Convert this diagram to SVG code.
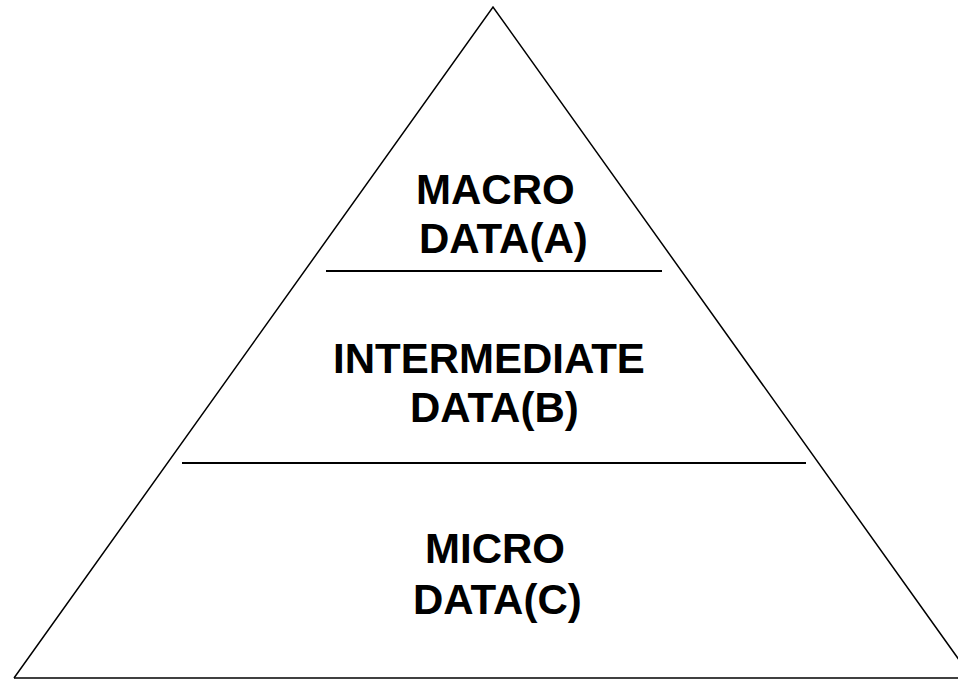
<svg xmlns="http://www.w3.org/2000/svg" width="958" height="680" viewBox="0 0 958 680">
<style>
.edge{stroke:#000;stroke-width:1.5;fill:none}
.div{stroke:#000;stroke-width:2;fill:none}
.lbl{font-family:"Liberation Sans",Arial,sans-serif;font-weight:bold;font-size:42px;fill:#000}
</style>
<rect width="958" height="680" fill="#fff"/>
<g id="pyramid">
<polyline class="edge" points="14,678 493,7 972,678"/>
<line class="edge" x1="14" y1="678" x2="958" y2="678"/>
</g>
<g id="connectors">
<line class="div" x1="326" y1="271" x2="662" y2="271"/>
<line class="div" x1="182" y1="463" x2="806" y2="463"/>
</g>
<g id="macro"><text class="lbl" x="416" y="204">MACRO</text><text class="lbl" x="419" y="253">DATA(A)</text></g>
<g id="intermediate"><text class="lbl" x="333" y="373">INTERMEDIATE</text><text class="lbl" x="410" y="422">DATA(B)</text></g>
<g id="micro"><text class="lbl" x="425" y="563">MICRO</text><text class="lbl" x="413" y="614">DATA(C)</text></g>
</svg>
